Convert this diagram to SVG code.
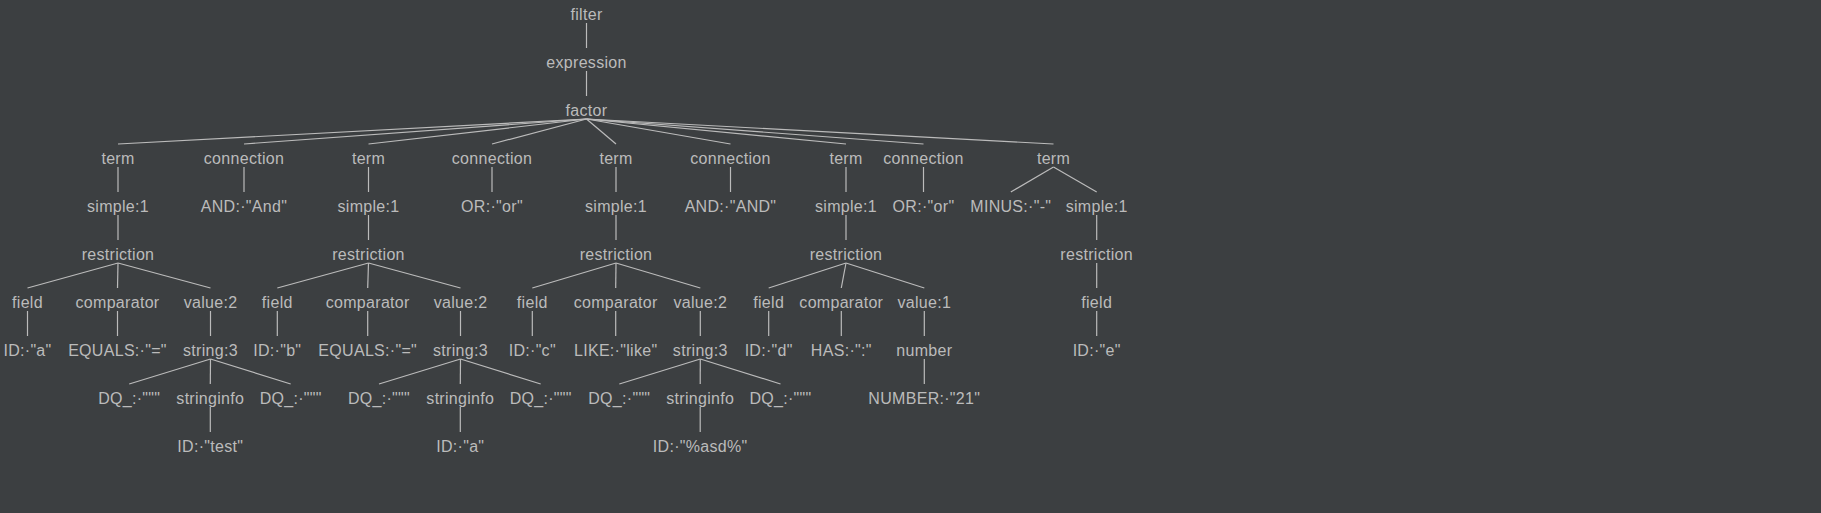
<svg xmlns="http://www.w3.org/2000/svg" width="1821" height="513" viewBox="0 0 1821 513">
<style>
text{font-family:"Liberation Sans",Arial,sans-serif;font-size:16px;fill:#bbbbbb;text-anchor:middle;letter-spacing:0.3px}
.e line{stroke:#bbbbbb;stroke-width:1.2}
</style>
<rect width="1821" height="513" fill="#3c3f41"/>
<g class="e" id="connectors">
<line x1="586.5" y1="23" x2="586.5" y2="48"/>
<line x1="586.5" y1="71" x2="586.5" y2="96"/>
<line x1="586.5" y1="119" x2="118" y2="144"/>
<line x1="586.5" y1="119" x2="244" y2="144"/>
<line x1="586.5" y1="119" x2="368.5" y2="144"/>
<line x1="586.5" y1="119" x2="492" y2="144"/>
<line x1="586.5" y1="119" x2="616" y2="144"/>
<line x1="586.5" y1="119" x2="730.5" y2="144"/>
<line x1="586.5" y1="119" x2="846" y2="144"/>
<line x1="586.5" y1="119" x2="923.5" y2="144"/>
<line x1="586.5" y1="119" x2="1053.5" y2="144"/>
<line x1="118" y1="167" x2="118" y2="192"/>
<line x1="244" y1="167" x2="244" y2="192"/>
<line x1="368.5" y1="167" x2="368.5" y2="192"/>
<line x1="492" y1="167" x2="492" y2="192"/>
<line x1="616" y1="167" x2="616" y2="192"/>
<line x1="730.5" y1="167" x2="730.5" y2="192"/>
<line x1="846" y1="167" x2="846" y2="192"/>
<line x1="923.5" y1="167" x2="923.5" y2="192"/>
<line x1="1053.5" y1="167" x2="1010.8" y2="192"/>
<line x1="1053.5" y1="167" x2="1096.7" y2="192"/>
<line x1="118" y1="215" x2="118" y2="240"/>
<line x1="368.5" y1="215" x2="368.5" y2="240"/>
<line x1="616" y1="215" x2="616" y2="240"/>
<line x1="846" y1="215" x2="846" y2="240"/>
<line x1="1096.7" y1="215" x2="1096.7" y2="240"/>
<line x1="118" y1="263" x2="27.5" y2="288"/>
<line x1="118" y1="263" x2="117.5" y2="288"/>
<line x1="118" y1="263" x2="210.5" y2="288"/>
<line x1="368.5" y1="263" x2="277.3" y2="288"/>
<line x1="368.5" y1="263" x2="367.7" y2="288"/>
<line x1="368.5" y1="263" x2="460.5" y2="288"/>
<line x1="616" y1="263" x2="532.3" y2="288"/>
<line x1="616" y1="263" x2="615.7" y2="288"/>
<line x1="616" y1="263" x2="700.3" y2="288"/>
<line x1="846" y1="263" x2="768.7" y2="288"/>
<line x1="846" y1="263" x2="841.3" y2="288"/>
<line x1="846" y1="263" x2="924.3" y2="288"/>
<line x1="1096.7" y1="263" x2="1096.7" y2="288"/>
<line x1="27.5" y1="311" x2="27.5" y2="336"/>
<line x1="117.5" y1="311" x2="117.5" y2="336"/>
<line x1="210.5" y1="311" x2="210.5" y2="336"/>
<line x1="277.3" y1="311" x2="277.3" y2="336"/>
<line x1="367.7" y1="311" x2="367.7" y2="336"/>
<line x1="460.5" y1="311" x2="460.5" y2="336"/>
<line x1="532.3" y1="311" x2="532.3" y2="336"/>
<line x1="615.7" y1="311" x2="615.7" y2="336"/>
<line x1="700.3" y1="311" x2="700.3" y2="336"/>
<line x1="768.7" y1="311" x2="768.7" y2="336"/>
<line x1="841.3" y1="311" x2="841.3" y2="336"/>
<line x1="924.3" y1="311" x2="924.3" y2="336"/>
<line x1="1096.7" y1="311" x2="1096.7" y2="336"/>
<line x1="210.5" y1="359" x2="129.2" y2="384"/>
<line x1="210.5" y1="359" x2="210.3" y2="384"/>
<line x1="210.5" y1="359" x2="290.7" y2="384"/>
<line x1="460.5" y1="359" x2="379" y2="384"/>
<line x1="460.5" y1="359" x2="460.3" y2="384"/>
<line x1="460.5" y1="359" x2="540.7" y2="384"/>
<line x1="700.3" y1="359" x2="619.3" y2="384"/>
<line x1="700.3" y1="359" x2="700.2" y2="384"/>
<line x1="700.3" y1="359" x2="780.5" y2="384"/>
<line x1="924.3" y1="359" x2="924.3" y2="384"/>
<line x1="210.3" y1="407" x2="210.3" y2="432"/>
<line x1="460.3" y1="407" x2="460.3" y2="432"/>
<line x1="700.2" y1="407" x2="700.2" y2="432"/>
</g>
<g id="n-filter"><text x="586.5" y="20">filter</text></g>
<g id="n-expression"><text x="586.5" y="68">expression</text></g>
<g id="n-factor"><text x="586.5" y="116">factor</text></g>
<g id="n-term1"><text x="118" y="164">term</text></g>
<g id="n-conn1"><text x="244" y="164">connection</text></g>
<g id="n-term2"><text x="368.5" y="164">term</text></g>
<g id="n-conn2"><text x="492" y="164">connection</text></g>
<g id="n-term3"><text x="616" y="164">term</text></g>
<g id="n-conn3"><text x="730.5" y="164">connection</text></g>
<g id="n-term4"><text x="846" y="164">term</text></g>
<g id="n-conn4"><text x="923.5" y="164">connection</text></g>
<g id="n-term5"><text x="1053.5" y="164">term</text></g>
<g id="n-simple1"><text x="118" y="212">simple:1</text></g>
<g id="n-and1"><text x="244" y="212">AND:·"And"</text></g>
<g id="n-simple2"><text x="368.5" y="212">simple:1</text></g>
<g id="n-or1"><text x="492" y="212">OR:·"or"</text></g>
<g id="n-simple3"><text x="616" y="212">simple:1</text></g>
<g id="n-and2"><text x="730.5" y="212">AND:·"AND"</text></g>
<g id="n-simple4"><text x="846" y="212">simple:1</text></g>
<g id="n-or2"><text x="923.5" y="212">OR:·"or"</text></g>
<g id="n-minus"><text x="1010.8" y="212">MINUS:·"-"</text></g>
<g id="n-simple5"><text x="1096.7" y="212">simple:1</text></g>
<g id="n-restr1"><text x="118" y="260">restriction</text></g>
<g id="n-restr2"><text x="368.5" y="260">restriction</text></g>
<g id="n-restr3"><text x="616" y="260">restriction</text></g>
<g id="n-restr4"><text x="846" y="260">restriction</text></g>
<g id="n-restr5"><text x="1096.7" y="260">restriction</text></g>
<g id="n-field1"><text x="27.5" y="308">field</text></g>
<g id="n-comp1"><text x="117.5" y="308">comparator</text></g>
<g id="n-value1"><text x="210.5" y="308">value:2</text></g>
<g id="n-field2"><text x="277.3" y="308">field</text></g>
<g id="n-comp2"><text x="367.7" y="308">comparator</text></g>
<g id="n-value2"><text x="460.5" y="308">value:2</text></g>
<g id="n-field3"><text x="532.3" y="308">field</text></g>
<g id="n-comp3"><text x="615.7" y="308">comparator</text></g>
<g id="n-value3"><text x="700.3" y="308">value:2</text></g>
<g id="n-field4"><text x="768.7" y="308">field</text></g>
<g id="n-comp4"><text x="841.3" y="308">comparator</text></g>
<g id="n-value4"><text x="924.3" y="308">value:1</text></g>
<g id="n-field5"><text x="1096.7" y="308">field</text></g>
<g id="n-ida"><text x="27.5" y="356">ID:·"a"</text></g>
<g id="n-eq1"><text x="117.5" y="356">EQUALS:·"="</text></g>
<g id="n-str1"><text x="210.5" y="356">string:3</text></g>
<g id="n-idb"><text x="277.3" y="356">ID:·"b"</text></g>
<g id="n-eq2"><text x="367.7" y="356">EQUALS:·"="</text></g>
<g id="n-str2"><text x="460.5" y="356">string:3</text></g>
<g id="n-idc"><text x="532.3" y="356">ID:·"c"</text></g>
<g id="n-like"><text x="615.7" y="356">LIKE:·"like"</text></g>
<g id="n-str3"><text x="700.3" y="356">string:3</text></g>
<g id="n-idd"><text x="768.7" y="356">ID:·"d"</text></g>
<g id="n-has"><text x="841.3" y="356">HAS:·":"</text></g>
<g id="n-number"><text x="924.3" y="356">number</text></g>
<g id="n-ide"><text x="1096.7" y="356">ID:·"e"</text></g>
<g id="n-dq1"><text x="129.2" y="404">DQ_:·"""</text></g>
<g id="n-si1"><text x="210.3" y="404">stringinfo</text></g>
<g id="n-dq2"><text x="290.7" y="404">DQ_:·"""</text></g>
<g id="n-dq3"><text x="379" y="404">DQ_:·"""</text></g>
<g id="n-si2"><text x="460.3" y="404">stringinfo</text></g>
<g id="n-dq4"><text x="540.7" y="404">DQ_:·"""</text></g>
<g id="n-dq5"><text x="619.3" y="404">DQ_:·"""</text></g>
<g id="n-si3"><text x="700.2" y="404">stringinfo</text></g>
<g id="n-dq6"><text x="780.5" y="404">DQ_:·"""</text></g>
<g id="n-num21"><text x="924.3" y="404">NUMBER:·"21"</text></g>
<g id="n-idtest"><text x="210.3" y="452">ID:·"test"</text></g>
<g id="n-ida2"><text x="460.3" y="452">ID:·"a"</text></g>
<g id="n-idasd"><text x="700.2" y="452">ID:·"%asd%"</text></g>
</svg>
